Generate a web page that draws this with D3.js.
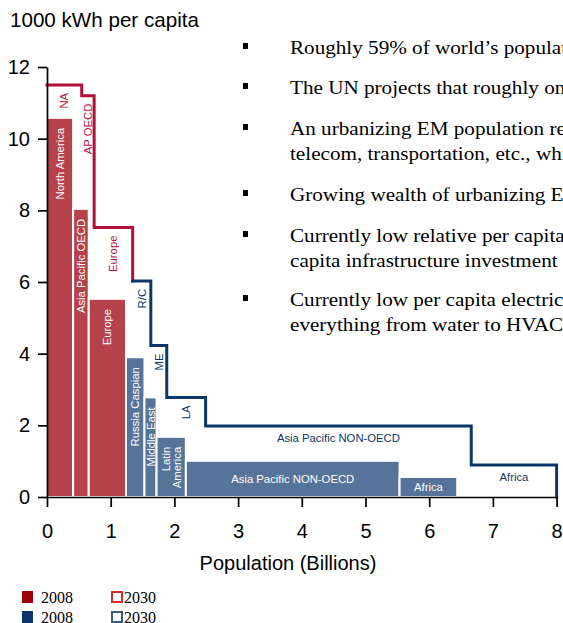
<!DOCTYPE html>
<html><head><meta charset="utf-8">
<script src="https://cdn.jsdelivr.net/npm/d3@7/dist/d3.min.js"></script>
<style>
html,body{margin:0;padding:0;background:#fff;overflow:hidden}
svg{display:block}
</style>
</head><body>
<svg id="chart" width="563" height="623"></svg>
<script>
// ---- data ----
const regions2008 = ["North America","Asia Pacific OECD","Europe","Russia Caspian","Middle East","Latin America","Asia Pacific NON-OECD","Africa"];
const labelLines2008 = [["North America"],["Asia Pacific OECD"],["Europe"],["Russia Caspian"],["Middle East"],["Latin","America"],["Asia Pacific NON-OECD"],["Africa"]];
const pop2008 = [0.41, 0.245, 0.585, 0.29, 0.19, 0.46, 3.355, 0.905];   // billions
const kwh2008 = [10.58, 8.04, 5.53, 3.90, 2.78, 1.68, 1.01, 0.56];     // 1000 kWh per capita
const bloc2008 = ["OECD","OECD","OECD","NON","NON","NON","NON","NON"];

const labels2030 = ["NA","AP OECD","Europe","R/C","ME","LA","Asia Pacific NON-OECD","Africa"];
const pop2030 = [0.545, 0.195, 0.605, 0.285, 0.25, 0.61, 4.17, 1.34];
const kwh2030 = [11.5, 11.2, 7.52, 6.03, 4.23, 2.78, 1.98, 0.89];
const bloc2030 = ["OECD","OECD","OECD","NON","NON","NON","NON","NON"];

const xTicks = [0,1,2,3,4,5,6,7,8];
const yTicks = [0,2,4,6,8,10,12];

const titleText = "1000 kWh per capita";
const xTitle = "Population (Billions)";

const bullets = [
  ["Roughly 59% of world\u2019s population lives in emerging markets"],
  ["The UN projects that roughly one billion more people will live in cities"],
  ["An urbanizing EM population requires power, water, sanitation,", "telecom, transportation, etc., which drives infrastructure demand"],
  ["Growing wealth of urbanizing EM consumers increases demand"],
  ["Currently low relative per capita consumption implies high per", "capita infrastructure investment for years to come"],
  ["Currently low per capita electricity consumption will grow with", "everything from water to HVAC and appliances"]
];

const legendYears = ["2008","2030"];
const legendBlocs = ["OECD","NON"];

// ---- styles ----
const fill2008 = {OECD:"#b6424b", NON:"#567499"};
const line2030 = {OECD:"#b0103a", NON:"#0b3866"};
const legendFill = {OECD:"#a00008", NON:"#0c336b"};
const legendLine = {OECD:"#d42a2a", NON:"#3d5b80"};
const SANS = "'Liberation Sans', Arial, sans-serif";
const SERIF = "'Liberation Serif', 'Times New Roman', serif";

const svg = d3.select("#chart");
const x = d3.scaleLinear().domain([0,8]).range([47,556.6]);
const y = d3.scaleLinear().domain([0,12]).range([497,67]);

// cumulative positions
function cumul(arr){ let s=0; return arr.map(v=>{ const a=s; s+=v; return [a,s]; }); }
const span2008 = cumul(pop2008);
const span2030 = cumul(pop2030);

const bars = regions2008.map((r,i)=>({name:r, lines:labelLines2008[i], x0:span2008[i][0], x1:span2008[i][1], v:kwh2008[i], bloc:bloc2008[i]}));
const steps = labels2030.map((r,i)=>({name:r, x0:span2030[i][0], x1:span2030[i][1], v:kwh2030[i], bloc:bloc2030[i]}));
const isVertical = d => (d.x1 - d.x0) < 0.7;

// 2008 bars
svg.append("g").selectAll("rect").data(bars).join("rect")
  .attr("x", d=>x(d.x0)).attr("width", d=>x(d.x1)-x(d.x0))
  .attr("y", d=>y(d.v)).attr("height", d=>y(0)-y(d.v))
  .attr("fill", d=>fill2008[d.bloc])
  .attr("stroke","#fff").attr("stroke-width",2);

// 2008 labels
const lab08 = svg.append("g").attr("font-family",SANS).attr("font-size",11.3).attr("fill","#fff");
bars.forEach(d=>{
  const cx = x((d.x0+d.x1)/2);
  if (isVertical(d)){
    const t = lab08.append("text")
      .attr("transform",`translate(${cx},${y(d.v)+10}) rotate(-90)`)
      .attr("text-anchor","end");
    const n = d.lines.length;
    d.lines.forEach((ln,k)=>{
      t.append("tspan").attr("x",0).attr("y",(k-(n-1)/2)*11 + 4).text(ln);
    });
  } else {
    lab08.append("text").attr("x",cx).attr("y",(y(d.v)+y(0))/2+4)
      .attr("text-anchor","middle").text(d.name);
  }
});

// 2030 step outlines per bloc
const line = d3.line().x(p=>x(p[0])).y(p=>y(p[1])).curve(d3.curveStepAfter);
["OECD","NON"].forEach(b=>{
  const idx = steps.map((d,i)=>i).filter(i=>steps[i].bloc===b);
  const last = idx[idx.length-1];
  const pts = idx.map(i=>[steps[i].x0, steps[i].v]);
  const next = last+1 < steps.length ? steps[last+1].v : 0;
  pts.push([steps[last].x1, next]);
  svg.append("path").attr("d", line(pts))
    .attr("fill","none").attr("stroke", line2030[b]).attr("stroke-width",3)
    .attr("stroke-linecap","square").attr("stroke-linejoin","miter");
});

// 2030 labels
const lab30 = svg.append("g").attr("font-family",SANS).attr("font-size",11.3);
steps.forEach(d=>{
  const cx = x((d.x0+d.x1)/2);
  if (isVertical(d)){
    lab30.append("text")
      .attr("transform",`translate(${cx},${y(d.v)+8}) rotate(-90)`)
      .attr("text-anchor","end").attr("dy","0.35em")
      .attr("fill", line2030[d.bloc]).text(d.name);
  } else {
    lab30.append("text").attr("x",cx).attr("y",y(d.v)+16)
      .attr("text-anchor","middle").attr("fill", line2030[d.bloc]).text(d.name);
  }
});

// axes
const yAxis = svg.append("g").attr("transform",`translate(${x(0)},0)`)
  .call(d3.axisLeft(y).tickValues(yTicks).tickSize(9).tickSizeOuter(0).tickPadding(8).tickFormat(d3.format("d")));
const xAxis = svg.append("g").attr("transform",`translate(0,${y(0)})`)
  .call(d3.axisBottom(x).tickValues(xTicks).tickSize(10).tickSizeOuter(0).tickPadding(17).tickFormat(d3.format("d")));
[yAxis,xAxis].forEach(a=>{
  a.selectAll("path,line").attr("stroke","#000").attr("stroke-width",1.7);
  a.selectAll("text").attr("font-family",SANS).attr("font-size",20).attr("fill","#000");
});

// titles
svg.append("text").attr("x",10).attr("y",27).attr("font-family",SANS).attr("font-size",20.6).text(titleText);
svg.append("text").attr("x",288).attr("y",570).attr("text-anchor","middle")
  .attr("font-family",SANS).attr("font-size",20).text(xTitle);

// bullets
const bl = svg.append("g").attr("font-family",SERIF).attr("font-size",18).attr("fill","#000");
const bulletBase = [54, 94, 135, 201, 242, 306];
bullets.forEach((lines,i)=>{
  bl.append("rect").attr("x",243).attr("y",bulletBase[i]-11).attr("width",5).attr("height",6).attr("fill","#000");
  lines.forEach((ln,k)=>{
    bl.append("text").attr("transform",`translate(290,${bulletBase[i]+k*24.5}) scale(1.175,1)`).text(ln);
  });
});

// legend
const lg = svg.append("g").attr("font-family",SERIF).attr("font-size",16);
legendBlocs.forEach((b,r)=>{
  const yy = 591 + r*20;
  lg.append("rect").attr("x",22).attr("y",yy).attr("width",11).attr("height",12).attr("fill",legendFill[b]);
  lg.append("text").attr("x",41).attr("y",yy+12).text(legendYears[0]);
  lg.append("rect").attr("x",112).attr("y",yy+1).attr("width",10).attr("height",10)
    .attr("fill","#fff").attr("stroke",legendLine[b]).attr("stroke-width",2);
  lg.append("text").attr("x",124).attr("y",yy+12).text(legendYears[1]);
});
</script>
</body></html>
